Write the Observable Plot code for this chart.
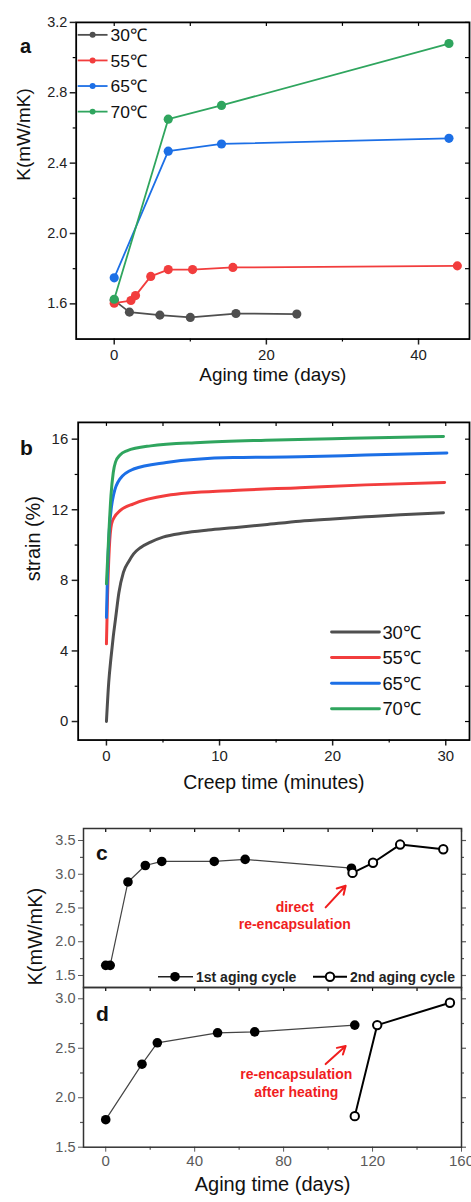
<!DOCTYPE html>
<html><head><meta charset="utf-8">
<script src="https://cdn.jsdelivr.net/npm/d3@7"></script>
<script src="https://cdn.jsdelivr.net/npm/@observablehq/plot@0.6"></script>
<style>
body{margin:0;background:#fff;}
#root{position:relative;width:471px;height:1202px;overflow:hidden;background:#fff;font-family:"Liberation Sans",Arial,sans-serif;}
.panel{position:absolute;left:0;}
.plabel{position:absolute;font-weight:bold;font-family:"Liberation Sans",Arial,sans-serif;color:#111;line-height:1;}
</style></head><body><div id="root"></div>
<script>
// ---------- data ----------
const tempLabels = ["30℃", "55℃", "65℃", "70℃"];
const tempColors = ["#4f4f4f", "#f23d3d", "#1c6fe6", "#2fa55e"];

// Panel a: thermal conductivity vs aging time
const aDays30 = [0, 2, 6, 10, 16, 24];
const aK30 = [1.62, 1.553, 1.536, 1.523, 1.545, 1.542];
const aDays55 = [0, 2.2, 2.8, 4.8, 7.1, 10.3, 15.6, 45.1];
const aK55 = [1.604, 1.619, 1.647, 1.756, 1.795, 1.795, 1.807, 1.816];
const aDays65 = [0, 7.1, 14.1, 44.0];
const aK65 = [1.748, 2.468, 2.509, 2.541];
const aDays70 = [0, 7.1, 14.1, 44.0];
const aK70 = [1.626, 2.65, 2.728, 3.08];
const aXTicks = [0, 20, 40], aXMinor = [10, 30];
const aYTicks = [1.6, 2.0, 2.4, 2.8, 3.2], aYMinor = [1.8, 2.2, 2.6, 3.0];

// Panel b: creep strain vs time
const bT30 = [0, 0.2, 0.4, 0.6, 0.8, 1.1, 1.5, 2.0, 2.4, 3.0, 3.9, 5.0, 6.8, 9.0, 11.2, 14, 17.1, 20, 22.9, 26, 29.8];
const bS30 = [0, 2.2, 3.6, 4.8, 5.8, 7.3, 8.45, 9.1, 9.5, 9.85, 10.17, 10.45, 10.68, 10.85, 10.98, 11.15, 11.35, 11.48, 11.6, 11.72, 11.83];
const bT55 = [0, 0.1, 0.25, 0.45, 0.7, 1.2, 2.4, 5.3, 11.2, 17.1, 22.9, 29.9];
const bS55 = [4.4, 7.2, 9.8, 11.2, 11.58, 11.95, 12.34, 12.81, 13.09, 13.25, 13.41, 13.55];
const bT65 = [0, 0.1, 0.25, 0.45, 0.65, 1.2, 2.4, 5.3, 11.2, 17.1, 22.9, 30.1];
const bS65 = [5.9, 8.5, 10.8, 12.2, 12.9, 13.75, 14.31, 14.68, 14.96, 15.0, 15.1, 15.22];
const bT70 = [0, 0.2, 0.4, 0.6, 0.8, 1.2, 1.8, 3.9, 8.3, 14.1, 20, 25, 29.8];
const bS70 = [7.8, 10.5, 12.8, 14.1, 14.7, 15.1, 15.34, 15.62, 15.81, 15.94, 16.03, 16.1, 16.15];
const bXTicks = [0, 10, 20, 30], bXMinor = [5, 15, 25];
const bYTicks = [0, 4, 8, 12, 16], bYMinor = [2, 6, 10, 14];

// Panel c: direct re-encapsulation
const c1Days = [0, 2, 10, 17.8, 25.2, 48.8, 62.7, 110.5];
const c1K = [1.65, 1.65, 2.886, 3.13, 3.19, 3.19, 3.22, 3.09];
const c2Days = [111, 120.2, 132.4, 151.8];
const c2K = [3.02, 3.17, 3.44, 3.37];
const cYTicks = [1.5, 2.0, 2.5, 3.0, 3.5], cYMinor = [1.75, 2.25, 2.75, 3.25];
const cNote = "direct\nre-encapsulation";
const cNoteAt = [85, 2.40];
const cArrow = [98.9, 2.51, 107.9, 2.83];

// Panel d: re-encapsulation after heating
const d1Days = [0, 16.3, 23.2, 50.3, 67.0, 112];
const d1K = [1.778, 2.339, 2.555, 2.656, 2.666, 2.734];
const d2Days = [112, 122.1, 154.8];
const d2K = [1.814, 2.734, 2.96];
const dYTicks = [1.5, 2.0, 2.5, 3.0], dYMinor = [1.75, 2.25, 2.75];
const dNote = "re-encapsulation\nafter heating";
const dNoteAt = [85.7, 2.156];
const dArrow = [98.9, 2.34, 107.9, 2.523];
const cdXTicks = [0, 40, 80, 120, 160], cdXMinor = [20, 60, 100, 140];
const cycleLabels = ["1st aging cycle", "2nd aging cycle"];

// ---------- helpers ----------
const FONT = '"Liberation Sans", Arial, sans-serif';
const style = {fontFamily: FONT, overflow: "visible", background: "transparent", color: "#000"};
const root = document.getElementById("root");
function place(svg, top) {
  const div = document.createElement("div");
  div.className = "panel"; div.style.top = top + "px";
  div.appendChild(svg); root.appendChild(div);
}
function plabel(t, left, top, size) {
  const d = document.createElement("div");
  d.className = "plabel"; d.textContent = t;
  d.style.left = left + "px"; d.style.top = top + "px"; d.style.fontSize = size + "px";
  root.appendChild(d);
}
const zip = (xs, ys, s) => xs.map((x, i) => ({x, y: ys[i], s}));
const topIn = (vals, innerH, len) => Plot.tickX(vals, {x: d => d, insetBottom: innerH - len, stroke: "#000", strokeWidth: 1.2});
const rightIn = (vals, innerW, len) => Plot.tickY(vals, {y: d => d, insetLeft: innerW - len, stroke: "#000", strokeWidth: 1.2});
const rightOut = (vals, innerW, len, c) => Plot.tickY(vals, {y: d => d, insetLeft: innerW, insetRight: -len, stroke: c, strokeWidth: 1.2});
const bottomOut = (vals, innerH, len, c) => Plot.tickX(vals, {x: d => d, insetTop: innerH, insetBottom: -len, stroke: c, strokeWidth: 1.2});
const leftOut = (vals, innerW, len, c) => Plot.tickY(vals, {y: d => d, insetRight: innerW, insetLeft: -len, stroke: c, strokeWidth: 1.2});
function legText(g, x, y, size, t, bold) {
  return g.append("text").attr("x", x).attr("y", y).attr("dy", "0.36em").attr("text-anchor", "start")
    .attr("font-size", size).attr("font-weight", bold ? "bold" : "normal").attr("fill", "#111").text(t);
}

// ---------- panel a ----------
{
  const W = 473, H = 400, mt = 22, mb = 60, ml = 76, mr = 2;
  const iw = W - ml - mr, ih = H - mt - mb;
  const rows = [
    ...zip(aDays30, aK30, tempLabels[0]), ...zip(aDays55, aK55, tempLabels[1]),
    ...zip(aDays65, aK65, tempLabels[2]), ...zip(aDays70, aK70, tempLabels[3])];
  const svg = Plot.plot({
    width: W, height: H, marginTop: mt, marginBottom: mb, marginLeft: ml, marginRight: mr, style,
    x: {domain: [-5, 46.7]}, y: {domain: [1.4, 3.2]},
    color: {domain: tempLabels, range: tempColors},
    marks: [
      Plot.axisX({ticks: aXTicks, tickSize: 6, tickPadding: 4, fontSize: 15, color: "#222", label: null, strokeWidth: 1.5}),
      Plot.axisY({ticks: aYTicks, tickSize: 6, tickPadding: 3, tickFormat: d3.format(".1f"), fontSize: 14.5, color: "#222", label: null, strokeWidth: 1.5}),
      bottomOut(aXMinor, ih, 3, "#000"), leftOut(aYMinor, iw, 3, "#000"),
      topIn(aXTicks.concat(aXMinor), ih, 4), rightIn(aYTicks.concat(aYMinor), iw, 4),
      Plot.frame({stroke: "#000", strokeWidth: 1.8}),
      Plot.line(rows, {x: "x", y: "y", z: "s", stroke: "s", strokeWidth: 1.8}),
      Plot.dot(rows, {x: "x", y: "y", fill: "s", r: 4.6}),
      Plot.text(["Aging time (days)"], {frameAnchor: "bottom", dy: 42, fontSize: 19, fill: "#111"}),
      Plot.text(["K(mW/mK)"], {frameAnchor: "left", rotate: -90, dx: -52, fontSize: 19, fill: "#111"})
    ]
  });
  const g = d3.select(svg).append("g");
  tempLabels.forEach((t, i) => {
    const y = 35 + i * 25.7;
    g.append("line").attr("x1", 78).attr("x2", 108).attr("y1", y).attr("y2", y).attr("stroke", tempColors[i]).attr("stroke-width", 1.8);
    g.append("circle").attr("cx", 93).attr("cy", y).attr("r", 3).attr("fill", tempColors[i]);
    legText(g, 111, y, 17.5, t);
  });
  place(svg, 0);
  plabel("a", 20, 36, 20);
}

// ---------- panel b ----------
{
  const W = 473, H = 410, mt = 22, mb = 69, ml = 78, mr = 2;
  const iw = W - ml - mr, ih = H - mt - mb;
  const rows = [
    ...zip(bT30, bS30, tempLabels[0]), ...zip(bT55, bS55, tempLabels[1]),
    ...zip(bT65, bS65, tempLabels[2]), ...zip(bT70, bS70, tempLabels[3])];
  const svg = Plot.plot({
    width: W, height: H, marginTop: mt, marginBottom: mb, marginLeft: ml, marginRight: mr, style,
    x: {domain: [-2.5, 32.1]}, y: {domain: [-1.05, 16.95]},
    color: {domain: tempLabels, range: tempColors},
    marks: [
      Plot.axisX({ticks: bXTicks, tickSize: 6, tickPadding: 4, fontSize: 15, color: "#222", label: null, strokeWidth: 1.5}),
      Plot.axisY({ticks: bYTicks, tickSize: 6, tickPadding: 4, fontSize: 15, color: "#222", label: null, strokeWidth: 1.5}),
      bottomOut(bXMinor, ih, 3, "#000"), leftOut(bYMinor, iw, 3, "#000"),
      topIn(bXTicks.concat(bXMinor), ih, 4), rightIn(bYTicks.concat(bYMinor), iw, 4),
      Plot.frame({stroke: "#000", strokeWidth: 1.8}),
      Plot.line(rows, {x: "x", y: "y", z: "s", stroke: "s", strokeWidth: 3, curve: "monotone-x"}),
      Plot.text(["Creep time (minutes)"], {frameAnchor: "bottom", dy: 49, fontSize: 19.5, fill: "#111"}),
      Plot.text(["strain (%)"], {frameAnchor: "left", rotate: -90, dx: -45, fontSize: 20, fill: "#111"})
    ]
  });
  const g = d3.select(svg).append("g");
  tempLabels.forEach((t, i) => {
    const y = 233 + i * 25.7;
    g.append("line").attr("x1", 333).attr("x2", 381).attr("y1", y).attr("y2", y).attr("stroke", tempColors[i]).attr("stroke-width", 3).attr("stroke-linecap", "round");
    legText(g, 384, y, 18.5, t);
  });
  place(svg, 400);
  plabel("b", 20, 437, 21);
}

// ---------- panel c ----------
const cdGray = "#5a5a5a";
{
  const W = 471, H = 177, mt = 18, mb = 0, ml = 83, mr = 10;
  const iw = W - ml - mr, ih = H - mt - mb;
  const r1 = zip(c1Days, c1K, "1"), r2 = zip(c2Days, c2K, "2");
  const svg = Plot.plot({
    width: W, height: H, marginTop: mt, marginBottom: mb, marginLeft: ml, marginRight: mr, style,
    x: {domain: [-10, 160], axis: null}, y: {domain: [1.322, 3.678]},
    marks: [
      Plot.axisY({ticks: cYTicks, tickSize: 5, tickPadding: 3, tickFormat: d3.format(".1f"), fontSize: 14.5, color: cdGray, label: null}),
      leftOut(cYMinor, iw, 3, cdGray),
      rightOut(cYTicks, iw, 5, cdGray), rightOut(cYMinor, iw, 3, cdGray),
      topIn(cdXTicks.concat(cdXMinor), ih, 4),
      Plot.frame({stroke: "#333", strokeWidth: 1.5}),
      Plot.line(r1, {x: "x", y: "y", stroke: "#444", strokeWidth: 1.2}),
      Plot.line(r2, {x: "x", y: "y", stroke: "#000", strokeWidth: 2}),
      Plot.dot(r1, {x: "x", y: "y", fill: "#000", r: 4.8}),
      Plot.dot(r2, {x: "x", y: "y", fill: "#fff", stroke: "#000", strokeWidth: 2, r: 4.2}),
      Plot.arrow([cArrow], {x1: d => d[0], y1: d => d[1], x2: d => d[2], y2: d => d[3], stroke: "#f01e1e", strokeWidth: 2, headLength: 7}),
      Plot.text([cNote], {x: cNoteAt[0], y: cNoteAt[1], text: d => d, fill: "#f01e1e", fontWeight: "bold", fontSize: 14, lineHeight: 1.24})
    ]
  });
  const g = d3.select(svg).append("g");
  const ly = 166.7;
  g.append("line").attr("x1", 158).attr("x2", 193).attr("y1", ly).attr("y2", ly).attr("stroke", "#222").attr("stroke-width", 1.5);
  g.append("circle").attr("cx", 175).attr("cy", ly).attr("r", 4.8).attr("fill", "#000");
  legText(g, 196, ly, 14, cycleLabels[0], true).attr("fill", "#222");
  g.append("line").attr("x1", 313).attr("x2", 347).attr("y1", ly).attr("y2", ly).attr("stroke", "#000").attr("stroke-width", 2);
  g.append("circle").attr("cx", 330).attr("cy", ly).attr("r", 4.2).attr("fill", "#fff").attr("stroke", "#000").attr("stroke-width", 2);
  legText(g, 350, ly, 14, cycleLabels[1], true).attr("fill", "#222");
  place(svg, 810);
  plabel("c", 96, 842, 21);
}

// ---------- panel d ----------
{
  const W = 471, H = 215, mt = 0, mb = 55.3, ml = 83, mr = 10;
  const iw = W - ml - mr, ih = H - mt - mb;
  const r1 = zip(d1Days, d1K, "1"), r2 = zip(d2Days, d2K, "2");
  const svg = Plot.plot({
    width: W, height: H, marginTop: mt, marginBottom: mb, marginLeft: ml, marginRight: mr, style,
    x: {domain: [-10, 160]}, y: {domain: [1.5, 3.114]},
    marks: [
      Plot.axisX({ticks: cdXTicks, tickSize: 5, tickPadding: 3, fontSize: 15, color: cdGray, label: null}),
      Plot.axisY({ticks: dYTicks, tickSize: 5, tickPadding: 3, tickFormat: d3.format(".1f"), fontSize: 14.5, color: cdGray, label: null}),
      bottomOut(cdXMinor, ih, 3, cdGray), leftOut(dYMinor, iw, 3, cdGray),
      rightOut(dYTicks, iw, 5, cdGray), rightOut(dYMinor, iw, 3, cdGray),
      topIn(cdXTicks.concat(cdXMinor), ih, 4),
      Plot.frame({stroke: "#333", strokeWidth: 1.5}),
      Plot.line(r1, {x: "x", y: "y", stroke: "#444", strokeWidth: 1.2}),
      Plot.line(r2, {x: "x", y: "y", stroke: "#000", strokeWidth: 2}),
      Plot.dot(r1, {x: "x", y: "y", fill: "#000", r: 4.8}),
      Plot.dot(r2, {x: "x", y: "y", fill: "#fff", stroke: "#000", strokeWidth: 2, r: 4.2}),
      Plot.arrow([dArrow], {x1: d => d[0], y1: d => d[1], x2: d => d[2], y2: d => d[3], stroke: "#f01e1e", strokeWidth: 2, headLength: 7}),
      Plot.text([dNote], {x: dNoteAt[0], y: dNoteAt[1], text: d => d, fill: "#f01e1e", fontWeight: "bold", fontSize: 14, lineHeight: 1.24}),
      Plot.text(["Aging time (days)"], {frameAnchor: "bottom", dy: 44, fontSize: 20, fill: "#111"}),
      Plot.text(["K(mW/mK)"], {frameAnchor: "top-left", rotate: -90, dx: -56, dy: -2, fontSize: 20, fill: "#111"})
    ]
  });
  place(svg, 987);
  plabel("d", 96, 1003, 21);
}
</script></body></html>
